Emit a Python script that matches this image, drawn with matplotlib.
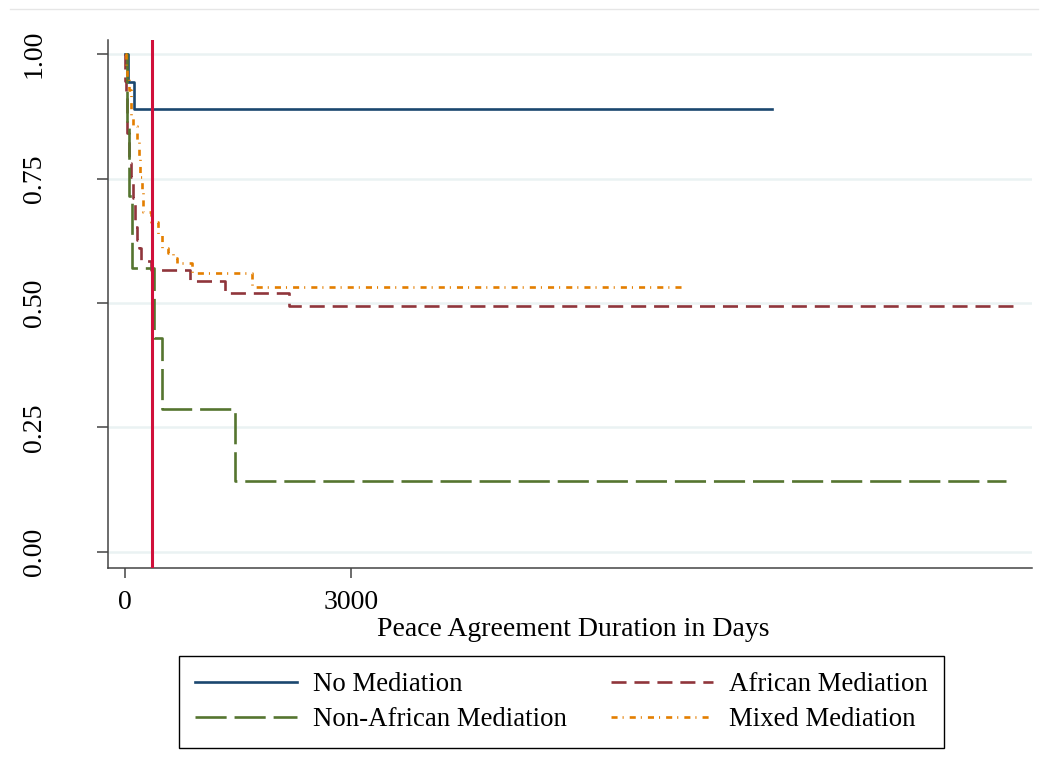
import matplotlib.pyplot as plt
from matplotlib.lines import Line2D

# Kaplan-Meier survival of peace agreements by mediation type
# (day of each drop, survival after the drop; last entry = last censored obs)
no_med_days = [0, 40, 123, 8597]
no_med_surv = [1.0, 0.944, 0.889, 0.889]

afr_days = [0, 8, 20, 30, 50, 80, 115, 140, 167, 190, 212, 345, 867, 1331, 2185, 11841]
afr_surv = [1.0, 0.946, 0.919, 0.841, 0.781, 0.753, 0.711, 0.652, 0.626, 0.610, 0.585,
            0.566, 0.545, 0.520, 0.494, 0.494]

non_afr_days = [0, 27, 60, 100, 382, 488, 1464, 11695]
non_afr_surv = [1.0, 0.857, 0.714, 0.571, 0.429, 0.286, 0.143, 0.143]

mixed_days = [0, 10, 30, 57, 80, 114, 159, 190, 207, 230, 239, 345, 435, 491, 575,
              641, 690, 889, 1686, 7451]
mixed_surv = [1.0, 0.975, 0.95, 0.928, 0.874, 0.855, 0.827, 0.793, 0.753, 0.726, 0.683,
              0.662, 0.636, 0.610, 0.600, 0.590, 0.581, 0.561, 0.533, 0.533]

labels = ["No Mediation", "African Mediation", "Non-African Mediation", "Mixed Mediation"]
one_year = 365
x_ticks = [0, 3000]
y_ticks = [0.0, 0.25, 0.5, 0.75, 1.0]

# stata s2color palette
navy = "#1A476F"
maroon = "#90353B"
forest = "#55752F"
dkorange = "#E37E00"
grid_col = "#EAF2F3"

plt.rcParams["font.family"] = ["Liberation Serif", "DejaVu Serif"]
plt.rcParams["font.size"] = 20

fig = plt.figure(figsize=(10.48, 7.71), dpi=100)
ax = fig.add_axes([0.1028, 0.2629, 0.8819, 0.6851])

lw = 1.9
dash_afr = (5.7, 3.0)
dash_non = (11.8, 3.0)
dash_mix = (2.3, 1.9, 0.4, 2.3)

ax.step(no_med_days, no_med_surv, where="post", color=navy, lw=lw, zorder=3)
ax.step(afr_days, afr_surv, where="post", color=maroon, lw=lw, zorder=3, dashes=dash_afr)
ax.step(non_afr_days, non_afr_surv, where="post", color=forest, lw=lw, zorder=3,
        dashes=dash_non)
ax.step(mixed_days, mixed_surv, where="post", color=dkorange, lw=lw, zorder=3,
        dashes=dash_mix)

# one-year mark
ax.axvline(one_year, color="#D0103A", lw=2.2, zorder=4)

ax.set_xlim(-226, 12044)
ax.set_ylim(-0.0331, 1.0281)
ax.set_xticks(x_ticks)
ax.set_yticks(y_ticks)
ax.set_yticklabels([f"{v:.2f}" for v in y_ticks], rotation=90, va="center")
ax.yaxis.grid(True, color=grid_col, lw=1.8, zorder=0)
ax.set_axisbelow(True)

for s in ["top", "right"]:
    ax.spines[s].set_visible(False)
for s in ["left", "bottom"]:
    ax.spines[s].set_color("#444444")
    ax.spines[s].set_linewidth(1.1)
ax.tick_params(axis="y", length=8, width=1.1, color="#444444", pad=36)
ax.tick_params(axis="x", length=7.5, width=1.1, color="#444444", pad=8)

ax.set_xlabel("Peace Agreement Duration in Days")
ax.xaxis.set_label_coords(0.504, -0.093)

# legend laid out row by row: No/African on top, Non-African/Mixed below
handles = [
    Line2D([], [], color=navy, lw=lw),
    Line2D([], [], color=forest, lw=lw, dashes=dash_non),
    Line2D([], [], color=maroon, lw=lw, dashes=dash_afr),
    Line2D([], [], color=dkorange, lw=lw, dashes=dash_mix),
]
leg_labels = [labels[0], labels[2], labels[1], labels[3]]
leg = fig.legend(handles, leg_labels, ncol=2, loc="center", fontsize=19.3,
                 bbox_to_anchor=(0.536, 0.0895), frameon=True, fancybox=False,
                 edgecolor="black", framealpha=1, handlelength=3.8,
                 handletextpad=0.6, columnspacing=1.65, labelspacing=0.38,
                 borderpad=0.6)
leg.get_frame().set_linewidth(1.0)

# faint border line along the top of the graph region
fig.add_artist(Line2D([0.01, 0.99], [0.988, 0.988], color="#E6E6E6", lw=1,
                      transform=fig.transFigure))

fig.savefig("out.png", dpi=100, facecolor="white")
